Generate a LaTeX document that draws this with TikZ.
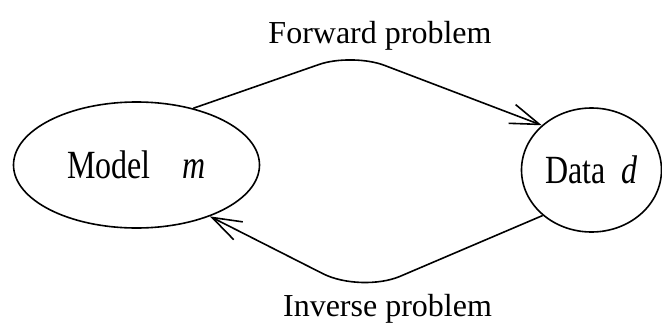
\documentclass[tikz,border=0pt]{standalone}
\usepackage{fontspec}
\setmainfont{Liberation Serif}
\usetikzlibrary{arrows.meta,shapes.geometric}
\newcommand{\tall}[1]{\scalebox{1}[1.25]{#1}}

\begin{document}
\begin{tikzpicture}[x=0.75pt, y=-0.75pt, line width=1.2pt,
  font=\fontsize{24}{28}\selectfont,
  state/.style={ellipse, draw, inner sep=0pt},
  flow/.style={-{Straight Barb[length=22pt,width=15pt]}, rounded corners=#1}]
\useasboundingbox (0,0) rectangle (662,329);
% ---- the two states ----
\node[state, minimum width=184.5pt, minimum height=94.5pt] (model) at (136.5,165) {\tall{Model\quad\textit{m}}};
\node[state, minimum width=105pt, minimum height=93pt] (data) at (591.5,170) {\tall{Data\enspace\textit{d}}};
% ---- forward and inverse problems ----
\coordinate (fwdtop) at (352,53);
\coordinate (invbot) at (361,293);
\draw[flow=26pt] (model.45) -- (fwdtop) -- (data.138);
\draw[flow=32pt] (data.223) -- (invbot) -- (model.325);
\node[anchor=base] (fwdlabel) at (380,43) {Forward problem};
\node[anchor=base] (invlabel) at (387.5,316) {Inverse problem};
\end{tikzpicture}
\end{document}
